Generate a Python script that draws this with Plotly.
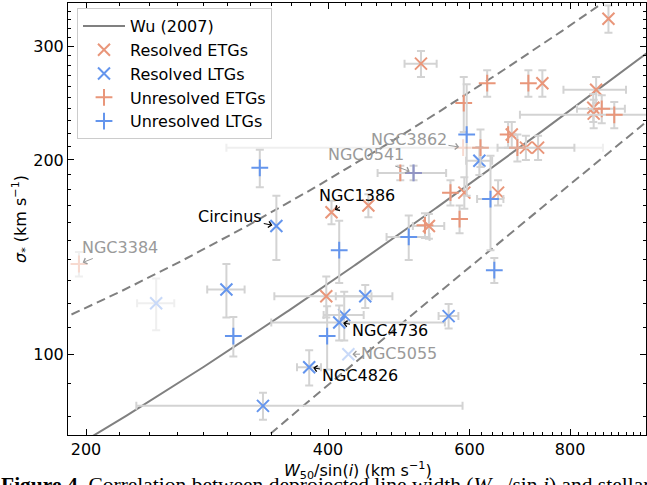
import numpy as np
import plotly.graph_objects as go

# ---------------- data ----------------
# Resolved ETGs
retg_w = [522, 893, 739, 862, 855, 856, 677, 705, 730, 591, 651, 404, 449, 534, 398]
retg_s = [282, 331, 263, 257, 241, 236, 219, 209, 209, 178, 178, 166, 170, 158, 123]
retg_wm = [24, 0, 0, 77, 0, 0, 0, 0, 80, 0, 0, 0, 0, 24, 55]
retg_wp = [24, 0, 0, 77, 0, 0, 0, 0, 80, 0, 0, 0, 0, 24, 55]
retg_se = [13, 16, 12.5, 12, 12, 12, 10, 9, 9, 10, 8, 7, 7, 7, 9]

# Resolved LTGs
rltg_w = [345, 617, 445, 419, 413, 565, 299, 379, 332]
rltg_s = [158, 199.5, 123, 115, 112, 114.6, 126, 95.5, 83.2]
rltg_wm = [0, 23, 36, 24, 73, 16, 16, 13, 101]
rltg_wp = [0, 23, 36, 24, 146, 16, 16, 13, 256]
rltg_se = [18, 10, 5, 10, 7, 5, 12, 6, 4]

# Unresolved ETGs
uetg_w = [590, 631, 710, 876, 908, 670, 619, 688, 492, 568, 583, 528]
uetg_s = [245, 263, 263, 240, 235, 219, 209, 209, 191, 178, 162, 158.4]
uetg_wm = [0, 0, 0, 60, 215, 0, 0, 0, 0, 0, 0, 0]
uetg_wp = [0, 0, 0, 60, 215, 0, 0, 0, 0, 0, 0, 0]
uetg_se = [24, 12.5, 12.5, 12, 11, 10, 14, 10, 5, 8, 8, 7]

# Unresolved LTGs
ultg_w = [329, 595, 511, 637, 413, 504, 644, 305, 399]
ultg_s = [194.5, 219, 191, 174, 145, 152, 135, 106.7, 106.7]
ultg_wm = [0, 0, 50, 24, 0, 31, 0, 0, 0]
ultg_wp = [0, 0, 50, 24, 0, 31, 0, 0, 0]
ultg_se = [13, 43, 5, 29, 16, 12, 6, 7.5, 12]

# Faded (excluded) objects
pale_rltg_w = [244.5, 424]
pale_rltg_s = [120, 100]
pale_rltg_we = [13, 0]
pale_rltg_se = [11, 0]

pale_uetg_w = [589, 196, 511]
pale_uetg_s = [209, 138, 191]
pale_uetg_we = [290, 0, 0]
pale_uetg_se = [0, 6, 0]

# Wu (2007) linear relation and bounds: sigma = a * W + b
wu_a, wu_b = 0.2751, 18.55
wu_hi_a, wu_hi_b = 0.3419, 49.6
wu_lo_a, wu_lo_b = 0.2343, -4.1

# Labelled galaxies: name, W, sigma, text offset (px), faded?
lab_names = ["NGC3384", "NGC3862", "NGC0541", "NGC1386", "Circinus", "NGC4736", "NGC5055", "NGC4826"]
lab_w = [196, 589, 511, 404, 345, 413, 424, 379]
lab_s = [138, 209, 191, 166, 158, 112, 100, 95.5]
lab_ax = [41.5, -54.2, -47.7, 25.7, -46.1, 50.3, 51.1, 50.3]
lab_ay = [-16.5, -8.4, -17.9, -16.4, -9.4, 7.5, -0.6, 8.3]
lab_faded = [True, True, True, False, False, False, True, False]

x_ticks = [200, 400, 600, 800]
y_ticks = [100, 200, 300]

# ---------------- style ----------------
ORANGE = "#E9967A"
BLUE = "#6495ED"
ERRC = "#d3d3d3"
FONT = "DejaVu Sans"

fig = go.Figure()

w_line = np.logspace(np.log10(185), np.log10(1010), 300)
fig.add_trace(go.Scatter(x=w_line, y=wu_a * w_line + wu_b, mode="lines",
                         line=dict(color="#808080", width=2), name="Wu (2007)"))
fig.add_trace(go.Scatter(x=w_line, y=wu_hi_a * w_line + wu_hi_b, mode="lines",
                         line=dict(color="#808080", width=2, dash="9px,5px"),
                         showlegend=False, hoverinfo="skip"))
fig.add_trace(go.Scatter(x=w_line, y=wu_lo_a * w_line + wu_lo_b, mode="lines",
                         line=dict(color="#808080", width=2, dash="9px,5px"),
                         showlegend=False, hoverinfo="skip"))


def add_points(ws, ss, wm, wp, se, color, symbol, name, legend, opacity=1.0):
    first = True
    for i in range(len(ws)):
        has_x = (wm[i] > 0) or (wp[i] > 0)
        has_y = se[i] > 0
        fig.add_trace(go.Scatter(
            x=[ws[i]], y=[ss[i]], mode="markers",
            marker=dict(symbol=symbol, size=12, color=color,
                        line=dict(color=color, width=2)),
            error_x=dict(type="data", symmetric=False, array=[wp[i]],
                         arrayminus=[wm[i]], color=ERRC, thickness=2, width=4,
                         visible=has_x),
            error_y=dict(type="data", array=[se[i]], color=ERRC, thickness=2,
                         width=4, visible=has_y),
            name=name, legendgroup=name, showlegend=(legend and first),
            opacity=opacity))
        first = False


add_points(retg_w, retg_s, retg_wm, retg_wp, retg_se, ORANGE, "x-thin-open", "Resolved ETGs", True)
add_points(rltg_w, rltg_s, rltg_wm, rltg_wp, rltg_se, BLUE, "x-thin-open", "Resolved LTGs", True)
add_points(uetg_w, uetg_s, uetg_wm, uetg_wp, uetg_se, ORANGE, "cross-thin-open", "Unresolved ETGs", True)
add_points(ultg_w, ultg_s, ultg_wm, ultg_wp, ultg_se, BLUE, "cross-thin-open", "Unresolved LTGs", True)
add_points(pale_rltg_w, pale_rltg_s, pale_rltg_we, pale_rltg_we, pale_rltg_se, BLUE,
           "x-thin-open", "faded LTGs", False, opacity=0.35)
add_points(pale_uetg_w, pale_uetg_s, pale_uetg_we, pale_uetg_we, pale_uetg_se, ORANGE,
           "cross-thin-open", "faded ETGs", False, opacity=0.35)

annotations = []
for name, w, s, ax, ay, faded in zip(lab_names, lab_w, lab_s, lab_ax, lab_ay, lab_faded):
    col = "#9a9a9a" if faded else "black"
    annotations.append(dict(
        x=np.log10(w), y=np.log10(s), xref="x", yref="y", text=name,
        showarrow=True, ax=ax, ay=ay, arrowhead=4, arrowsize=1.2, arrowwidth=1,
        arrowcolor=col, standoff=4, font=dict(family=FONT, size=16, color=col)))

annotations.append(dict(
    x=(358 - 68) / 578, y=(435 - 471) / 432, xref="paper", yref="paper",
    xanchor="center", yanchor="middle", showarrow=False,
    text="<i>W</i><sub>50</sub>/sin(<i>i</i>) (km s<sup>\u22121</sup>)",
    font=dict(family=FONT, size=16, color="black")))
annotations.append(dict(
    x=(20 - 68) / 578, y=0.5, xref="paper", yref="paper",
    xanchor="center", yanchor="middle", showarrow=False, textangle=-90,
    text="<i>\u03c3</i><sub>*</sub> (km s<sup>\u22121</sup>)",
    font=dict(family=FONT, size=16, color="black")))
annotations.append(dict(
    x=(-1 - 68) / 578, y=(435 - 471) / 432, xref="paper", yref="paper",
    xanchor="left", yanchor="top", showarrow=False,
    text="<b>Figure 4.</b> Correlation between deprojected line width (<i>W</i><sub>50</sub>/sin <i>i</i>) and stellar velocity dispersion",
    font=dict(family="Liberation Serif", size=21.5, color="black")))

x_minor = [v for v in range(200, 1000, 20) if v not in x_ticks]
y_minor = [v for v in range(80, 350, 10) if v not in y_ticks]

axis_common = dict(type="log", showgrid=False, zeroline=False, showline=True,
                   linecolor="black", linewidth=1, mirror="ticks", ticks="inside",
                   ticklen=6, tickwidth=1, tickcolor="black",
                   tickfont=dict(family=FONT, size=16, color="black"))

fig.update_xaxes(range=[2.27864, 2.99755], tickmode="array", tickvals=x_ticks,
                 ticktext=[str(v) for v in x_ticks],
                 minor=dict(tickmode="array", tickvals=x_minor, ticks="inside",
                            ticklen=3, tickcolor="black", tickwidth=1, showgrid=False),
                 **axis_common)
fig.update_yaxes(range=[1.87498, 2.54423], tickmode="array", tickvals=y_ticks,
                 ticktext=[str(v) for v in y_ticks],
                 minor=dict(tickmode="array", tickvals=y_minor, ticks="inside",
                            ticklen=3, tickcolor="black", tickwidth=1, showgrid=False),
                 **axis_common)

fig.update_layout(
    width=647, height=485,
    margin=dict(l=68, r=1, t=3, b=50),
    plot_bgcolor="white", paper_bgcolor="white",
    font=dict(family=FONT, size=16, color="black"),
    showlegend=True,
    legend=dict(x=(77 - 68) / 578, y=1 - (8 - 3) / 432, xanchor="left", yanchor="top",
                bgcolor="rgba(255,255,255,0.85)", bordercolor="#cccccc", borderwidth=1,
                font=dict(family=FONT, size=16, color="black"),
                tracegroupgap=0, itemwidth=42),
    annotations=annotations,
)

fig.write_html("out.html", config={"displayModeBar": False},
               post_script="document.body.style.margin='0';document.body.style.padding='0';")
